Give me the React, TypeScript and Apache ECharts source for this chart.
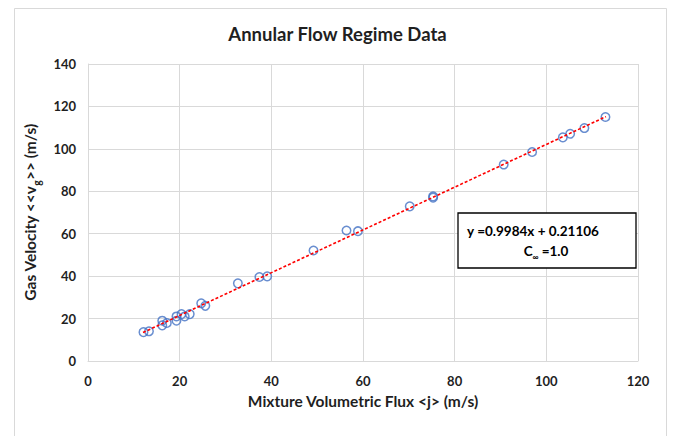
import React, { useEffect, useRef } from "react";
import * as echarts from "echarts";

const xVals = [12.1, 13.3, 16.2, 16.2, 17.2, 19.3, 19.3, 20.4, 21.1, 22.2, 24.7, 25.6, 32.7, 37.4, 39.1, 49.2, 56.4, 58.9, 70.2, 75.3, 75.3, 90.7, 96.9, 103.6, 105.2, 108.3, 112.9];
const yVals = [13.6, 14.0, 16.8, 19.0, 17.9, 19.0, 21.0, 22.1, 21.0, 22.1, 27.2, 26.0, 36.6, 39.6, 39.9, 52.1, 61.5, 61.2, 72.9, 77.6, 77.0, 92.6, 98.5, 105.4, 107.1, 109.8, 115.0];
const trendX = [12.0, 113.0];
const trendY = [13.4, 115.2];

const titleText = "Annular Flow Regime Data";
const xAxisTitle = "Mixture Volumetric Flux <j> (m/s)";
const equationText = "y =0.9984x + 0.21106";

const FONT = "Lato";
const TXT = "#1f1f1f";

export default function App() {
  const ref = useRef<HTMLDivElement>(null);
  useEffect(() => {
    if (!ref.current) return;
    const chart = echarts.init(ref.current, null, { renderer: "svg" });
    const points = xVals.map((x, i) => [x, yVals[i]]);
    const trend = trendX.map((x, i) => [x, trendY[i]]);
    chart.setOption({
      animation: false,
      backgroundColor: "#ffffff",
      textStyle: { fontFamily: FONT },
      title: {
        text: titleText,
        left: "center",
        top: 19,
        textStyle: { fontFamily: FONT, fontSize: 18.5, fontWeight: "bold", color: TXT },
      },
      grid: { left: 88, top: 64, right: 37, bottom: 75, containLabel: false },
      xAxis: {
        type: "value",
        min: 0,
        max: 120,
        interval: 20,
        name: xAxisTitle,
        nameLocation: "middle",
        nameGap: 32,
        nameTextStyle: { fontFamily: FONT, fontSize: 15.5, fontWeight: "bold", color: TXT },
        axisLine: { show: true, lineStyle: { color: "#d9d9d9", width: 1 } },
        axisTick: { show: false },
        axisLabel: { margin: 13, fontFamily: FONT, fontSize: 13, fontWeight: "bold", color: TXT },
        splitLine: { show: true, lineStyle: { color: "#d9d9d9", width: 1 } },
      },
      yAxis: {
        type: "value",
        min: 0,
        max: 140,
        interval: 20,
        name: "Gas Velocity <<v{sub|g}>> (m/s)",
        nameLocation: "middle",
        nameGap: 38,
        nameTextStyle: {
          fontFamily: FONT,
          fontSize: 15.5,
          fontWeight: "bold",
          color: TXT,
          lineHeight: 18,
          rich: {
            sub: { fontFamily: FONT, fontSize: 10.5, fontWeight: "bold", color: TXT, verticalAlign: "bottom", lineHeight: 24 },
          },
        },
        axisLine: { show: true, lineStyle: { color: "#d9d9d9", width: 1 } },
        axisTick: { show: false },
        axisLabel: { margin: 12, fontFamily: FONT, fontSize: 13, fontWeight: "bold", color: TXT },
        splitLine: { show: true, lineStyle: { color: "#d9d9d9", width: 1 } },
      },
      series: [
        {
          type: "line",
          data: trend,
          showSymbol: false,
          symbol: "none",
          lineStyle: { color: "#ff0000", width: 1.6, type: [3, 2] },
          z: 3,
          silent: true,
        },
        {
          type: "scatter",
          data: points,
          symbol: "circle",
          symbolSize: 8.5,
          itemStyle: { color: "rgba(0,0,0,0)", borderColor: "#4472c4", borderWidth: 1.5 },
          z: 2,
        },
      ],
      graphic: [
        {
          type: "rect",
          left: 12,
          top: 6,
          shape: { x: 0, y: 0, width: 652, height: 440 },
          style: { fill: "none", stroke: "#d9d9d9", lineWidth: 1 },
          silent: true,
          z: -10,
        },
        {
          type: "rect",
          shape: { x: 458, y: 213, width: 178, height: 55 },
          style: { fill: "#ffffff", stroke: "#000000", lineWidth: 1.3 },
          z: 100,
        },
        {
          type: "text",
          x: 533,
          y: 231,
          style: {
            text: equationText,
            fontFamily: FONT,
            fontSize: 13.5,
            fontWeight: "bold",
            fill: "#000000",
            align: "center",
            verticalAlign: "middle",
          },
          z: 101,
        },
        {
          type: "text",
          x: 546,
          y: 251,
          style: {
            text: "C{sub|∞} =1.0",
            fontFamily: FONT,
            fontSize: 13.5,
            fontWeight: "bold",
            fill: "#000000",
            align: "center",
            verticalAlign: "middle",
            lineHeight: 16,
            rich: {
              sub: { fontFamily: FONT, fontSize: 8, fontWeight: "bold", fill: "#000000", verticalAlign: "bottom", lineHeight: 20 },
            },
          },
          z: 101,
        },
      ],
    });
    return () => chart.dispose();
  }, []);
  return (
    <div
      ref={ref}
      style={{ position: "fixed", left: 0, top: 0, width: 675, height: 436 }}
    />
  );
}
